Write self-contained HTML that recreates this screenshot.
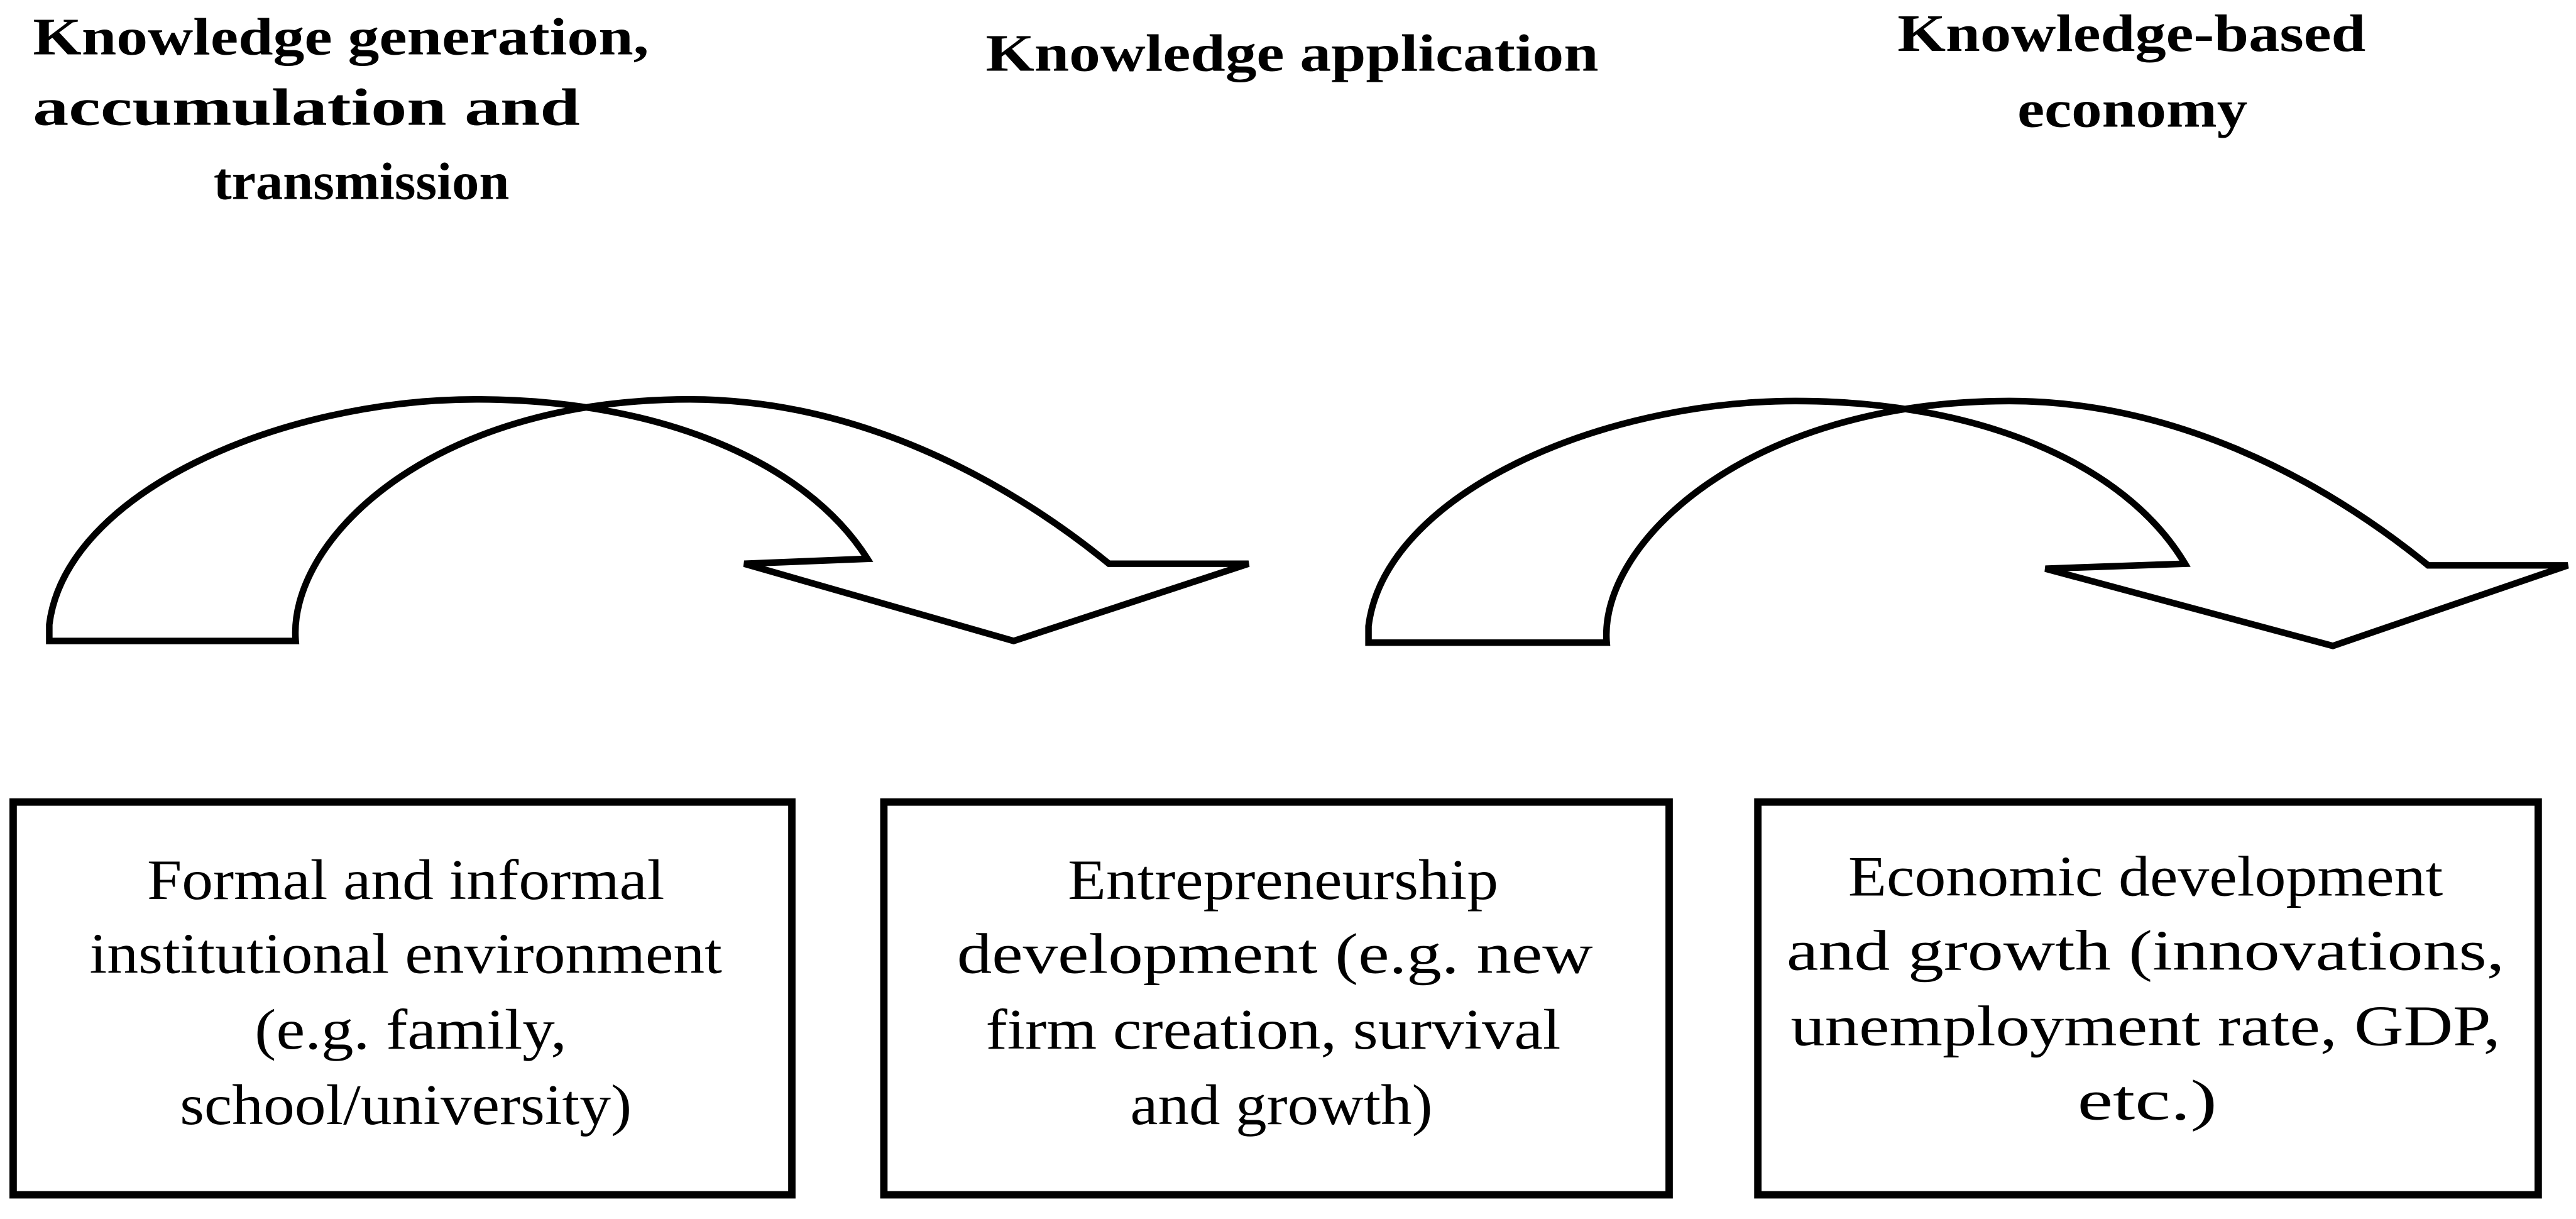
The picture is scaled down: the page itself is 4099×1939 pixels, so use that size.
<!DOCTYPE html>
<html><head><meta charset="utf-8"><style>html,body{margin:0;padding:0;background:#fff}svg{display:block}
text{font-family:"Liberation Serif","Times New Roman",serif}
.t{font-weight:bold;font-size:32px}
.b{font-size:35px}
</style></head>
<body>
<svg width="4099" height="1939" viewBox="0 0 1568 741.7" xmlns="http://www.w3.org/2000/svg">
<rect width="1568" height="742" fill="#fff"/>
<g class="t" fill="#000">
<text class="t" x="20" y="33" textLength="375" lengthAdjust="spacingAndGlyphs">Knowledge generation,</text>
<text class="t" x="20" y="76" textLength="333" lengthAdjust="spacingAndGlyphs">accumulation and</text>
<text class="t" x="130" y="121" textLength="180" lengthAdjust="spacingAndGlyphs">transmission</text>
<text class="t" x="600" y="43" textLength="373" lengthAdjust="spacingAndGlyphs">Knowledge application</text>
<text class="t" x="1155" y="31" textLength="285" lengthAdjust="spacingAndGlyphs">Knowledge-based</text>
<text class="t" x="1228" y="77" textLength="140" lengthAdjust="spacingAndGlyphs">economy</text>
</g>
<g fill="#fff" stroke="#000" stroke-width="4">
<path d="M30,390 L180,390 C175,330 260,243 420,243 C520,243 610,290 675,343 L760,343 L617,390 L453,343 L528,340 C490,280 400,243 290,243 C170,243 40,300 30,380 Z"/>
</g>
<g fill="#fff" stroke="#000" stroke-width="4" transform="translate(803,1)">
<path d="M30,390 L175,390 C170,330 260,243 420,243 C520,243 610,290 675,343 L760,343 L617,392 L442,345 L527,342 C490,280 400,243 290,243 C170,243 40,300 30,380 Z"/>
</g>
<g fill="none" stroke="#000" stroke-width="4.5">
<rect x="8" y="488" width="474" height="239"/>
<rect x="538" y="488" width="478" height="239"/>
<rect x="1070" y="488" width="475" height="239"/>
</g>
<g fill="#000" text-anchor="middle">
<text class="b" x="247" y="547" textLength="315" lengthAdjust="spacingAndGlyphs">Formal and informal</text>
<text class="b" x="247" y="592" textLength="385" lengthAdjust="spacingAndGlyphs">institutional environment</text>
<text class="b" x="250" y="638" textLength="190" lengthAdjust="spacingAndGlyphs">(e.g. family,</text>
<text class="b" x="247" y="684" textLength="275" lengthAdjust="spacingAndGlyphs">school/university)</text>
<text class="b" x="781" y="547" textLength="262" lengthAdjust="spacingAndGlyphs">Entrepreneurship</text>
<text class="b" x="776" y="592" textLength="387" lengthAdjust="spacingAndGlyphs">development (e.g. new</text>
<text class="b" x="775" y="638" textLength="350" lengthAdjust="spacingAndGlyphs">firm creation, survival</text>
<text class="b" x="780" y="684" textLength="184" lengthAdjust="spacingAndGlyphs">and growth)</text>
<text class="b" x="1306" y="545" textLength="362" lengthAdjust="spacingAndGlyphs">Economic development</text>
<text class="b" x="1306" y="590" textLength="437" lengthAdjust="spacingAndGlyphs">and growth (innovations,</text>
<text class="b" x="1306" y="636" textLength="432" lengthAdjust="spacingAndGlyphs">unemployment rate, GDP,</text>
<text class="b" x="1307" y="681" textLength="85" lengthAdjust="spacingAndGlyphs">etc.)</text>
</g>
</svg>
</body></html>
